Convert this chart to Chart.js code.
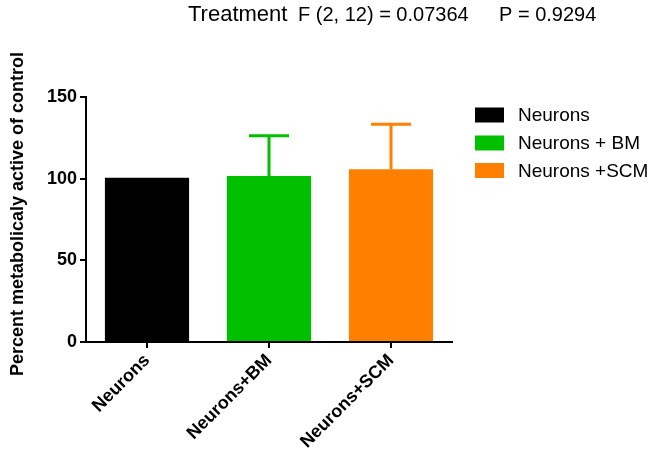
<!DOCTYPE html>
<html><head><meta charset="utf-8">
<script src="https://cdn.jsdelivr.net/npm/chart.js@4.4.1/dist/chart.umd.min.js"></script>
<style>html,body{margin:0;padding:0;background:#fff}#wrap{width:659px;height:460px;position:relative}</style>
</head><body><div id="wrap"><canvas id="c" width="659" height="460"></canvas></div>
<script>
const categories = ["Neurons", "Neurons+BM", "Neurons+SCM"];
const legendLabels = ["Neurons", "Neurons + BM", "Neurons +SCM"];
const means = [100.6, 101.6, 105.7];
const errors = [0, 24.6, 27.6];
const colors = ["#000000", "#00c000", "#ff8000"];
const yTicks = [0, 50, 100, 150];
const titleMain = "Treatment";
const titleStats1 = "F (2, 12) = 0.07364";
const titleStats2 = "P = 0.9294";
const yTitle = "Percent metabolicaly active of control";
const FONT = "'Liberation Sans', Arial, sans-serif";

const extras = {
  id: 'extras',
  afterDatasetsDraw(chart) {
    const ctx = chart.ctx;
    const meta = chart.getDatasetMeta(0);
    const ys = chart.scales.y;
    ctx.save();
    meta.data.forEach((bar, i) => {
      if (!errors[i]) return;
      const top = ys.getPixelForValue(means[i] + errors[i]);
      const base = ys.getPixelForValue(means[i]);
      ctx.strokeStyle = colors[i];
      ctx.lineWidth = 3;
      ctx.beginPath();
      ctx.moveTo(bar.x, base);
      ctx.lineTo(bar.x, top);
      ctx.moveTo(bar.x - 20, top);
      ctx.lineTo(bar.x + 20, top);
      ctx.stroke();
    });
    ctx.restore();
  },
  afterDraw(chart) {
    const ctx = chart.ctx;
    ctx.save();
    ctx.fillStyle = '#000';
    ctx.textBaseline = 'alphabetic';
    ctx.textAlign = 'left';
    ctx.font = "22px " + FONT;
    ctx.fillText(titleMain, 188, 21);
    ctx.font = "20px " + FONT;
    ctx.fillText(titleStats1, 298, 21);
    ctx.fillText(titleStats2, 499, 21);
    // legend
    const rows = [115, 143, 170.5];
    legendLabels.forEach((lab, i) => {
      ctx.fillStyle = colors[i];
      ctx.fillRect(475, rows[i] - 7.5, 29, 15);
      ctx.fillStyle = '#000';
      ctx.font = "19px " + FONT;
      ctx.textBaseline = 'middle';
      ctx.fillText(lab, 518, rows[i] + 1);
    });
    // y-axis title
    ctx.translate(18, 214);
    ctx.rotate(-Math.PI / 2);
    ctx.font = "bold 18px " + FONT;
    ctx.textAlign = 'center';
    ctx.textBaseline = 'middle';
    ctx.fillText(yTitle, 0, 0);
    ctx.restore();
  }
};

new Chart(document.getElementById('c'), {
  type: 'bar',
  data: {
    labels: categories,
    datasets: [{
      data: means,
      backgroundColor: colors,
      borderWidth: 0,
      barPercentage: 0.69,
      categoryPercentage: 1.0
    }]
  },
  options: {
    responsive: false,
    animation: false,
    devicePixelRatio: 1,
    layout: { padding: { top: 97, right: 207, left: 0, bottom: 0 } },
    plugins: { legend: { display: false }, title: { display: false }, tooltip: { enabled: false } },
    scales: {
      x: {
        afterFit(s) { s.height = 118; },
        grid: { offset: false, drawOnChartArea: false, drawTicks: true, tickLength: 6, color: '#000', lineWidth: 2 },
        border: { display: true, color: '#000', width: 2 },
        ticks: { color: '#000', font: { family: FONT, size: 18, weight: 'bold' }, maxRotation: 45, minRotation: 45, padding: 2 }
      },
      y: {
        min: 0, max: 150,
        afterFit(s) { s.width = 86; },
        afterBuildTicks(s) { s.ticks = yTicks.map(v => ({ value: v })); },
        grid: { drawOnChartArea: false, drawTicks: true, tickLength: 6, color: '#000', lineWidth: 2 },
        border: { display: true, color: '#000', width: 2 },
        ticks: { color: '#000', font: { family: FONT, size: 18, weight: 'bold' }, padding: 3 },
        title: { display: false }
      }
    }
  },
  plugins: [extras]
});
</script>
</body></html>
